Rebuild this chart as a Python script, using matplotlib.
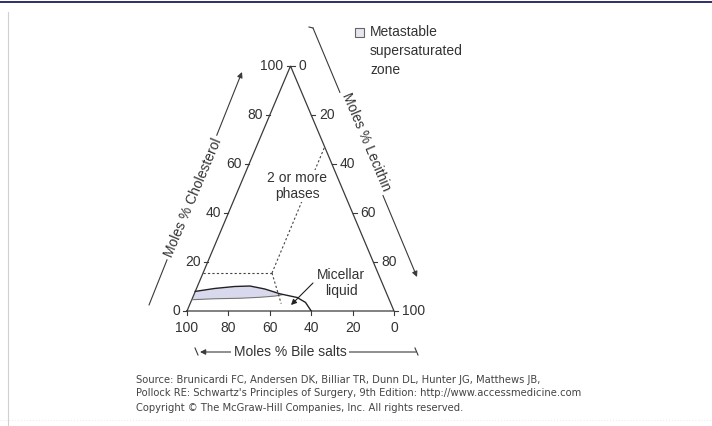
import numpy as np
import matplotlib
matplotlib.use("Agg")
import matplotlib.pyplot as plt
from matplotlib.patches import Rectangle, Polygon
from matplotlib.lines import Line2D

plt.rcParams['font.family'] = ['Liberation Sans', 'DejaVu Sans']

# ---------------- data (ternary percentages) ----------------
tick_values = [0, 20, 40, 60, 80, 100]

# micellar-liquid boundary (solid line): lecithin %, cholesterol %  (bile salts = rest)
micellar_lecithin = [0, 8.8, 18, 25.3, 33, 41.5, 50.5, 55.5, 60]
micellar_cholesterol = [8, 9.2, 10, 10.2, 9, 7, 5.5, 3.5, 0]

# lower edge of metastable supersaturated zone
meta_lecithin = [0, 11, 23, 32.5, 39.5, 42.5]
meta_cholesterol = [4.6, 5.0, 5.2, 5.6, 6.1, 6.6]

# dashed phase-boundary lines (lecithin %, cholesterol %)
phase_h_lecithin = [0, 33.3]
phase_h_cholesterol = [15.5, 15.5]
phase_up_lecithin = [33.3, 33]
phase_up_cholesterol = [15.5, 67]
phase_down_lecithin = [33.3, 44]
phase_down_cholesterol = [15.5, 3]

source_lines = [
    "Source: Brunicardi FC, Andersen DK, Billiar TR, Dunn DL, Hunter JG, Matthews JB,",
    "Pollock RE: Schwartz's Principles of Surgery, 9th Edition: http://www.accessmedicine.com",
    "Copyright \u00a9 The McGraw-Hill Companies, Inc. All rights reserved.",
]

# ---------------- figure ----------------
W, H = 712, 426
fig = plt.figure(figsize=(W / 100, H / 100), dpi=100)
fig.patch.set_facecolor('white')

X0, X1, YB, YT = 187, 394, 311, 66
ax = fig.add_axes([X0 / W, (H - YB) / H, (X1 - X0) / W, (YB - YT) / H])
ax.set_xlim(0, 100)
ax.set_ylim(0, 100)
ax.axis('off')

sx = 100 / (X1 - X0)   # data units per pixel (x)
sy = 100 / (YB - YT)   # data units per pixel (y)


def P(px, py):
    return ((px - X0) * sx, (YB - py) * sy)


def tern(L, C):
    L = np.asarray(L, float)
    C = np.asarray(C, float)
    return L + C / 2.0, C


LC = '#3a3a3a'
TC = '#333333'
FS = 10

# triangle
tx, ty = tern([0, 100, 0, 0], [0, 0, 100, 0])
ax.plot(tx, ty, color=LC, lw=0.9, clip_on=False, solid_joinstyle='miter')

# ticks and labels
for v in tick_values:
    # cholesterol (left edge)
    x, y = tern(0, v)
    ax.plot([x, x - 4 * sx], [y, y], color=LC, lw=0.8, clip_on=False)
    ax.text(x - 7 * sx, y, str(v), ha='right', va='center', fontsize=FS, color=TC)
    # lecithin (right edge)
    x, y = tern(v, 100 - v)
    ax.plot([x, x + 4 * sx], [y, y], color=LC, lw=0.8, clip_on=False)
    ax.text(x + 8 * sx, y, str(v), ha='left', va='center', fontsize=FS, color=TC)
    # bile salts (bottom edge): B = v -> L = 100 - v
    x, y = tern(100 - v, 0)
    ax.plot([x, x], [y, y - 4 * sy], color=LC, lw=0.8, clip_on=False)
    ax.text(x, y - 10 * sy, str(v), ha='center', va='top', fontsize=FS, color=TC)

# metastable zone fill
ux, uy = tern(micellar_lecithin[:6], micellar_cholesterol[:6])
lx, ly = tern(meta_lecithin, meta_cholesterol)
poly_x = np.concatenate([ux, lx[::-1]])
poly_y = np.concatenate([uy, ly[::-1]])
ax.add_patch(Polygon(np.column_stack([poly_x, poly_y]), closed=True,
                     facecolor='#d9d9ee', edgecolor='none', zorder=1))
ax.plot(lx, ly, color='#777777', lw=0.8, zorder=2)

# micellar boundary
mx, my = tern(micellar_lecithin, micellar_cholesterol)
ax.plot(mx, my, color='#222222', lw=1.0, zorder=3)

# dashed phase lines
for Ls, Cs in [(phase_h_lecithin, phase_h_cholesterol),
               (phase_up_lecithin, phase_up_cholesterol),
               (phase_down_lecithin, phase_down_cholesterol)]:
    px_, py_ = tern(Ls, Cs)
    ax.plot(px_, py_, color='#444444', lw=0.8, ls=(0, (2, 2)), zorder=2)

# annotations
ax.text(*P(297, 186), "2 or more\nphases", ha='center', va='center', fontsize=FS,
        color=TC, linespacing=1.15, zorder=5,
        bbox=dict(facecolor='white', edgecolor='none', pad=1))
ax.text(*P(341, 283), "Micellar\nliquid", ha='center', va='center', fontsize=FS,
        color=TC, linespacing=1.15, zorder=5)
ax.annotate('', xy=P(291, 305), xytext=P(313, 283),
            arrowprops=dict(arrowstyle='-|>', color='#222222', lw=0.8,
                            mutation_scale=8, shrinkA=0, shrinkB=0),
            annotation_clip=False)

# axis titles with arrows
ang = np.degrees(np.arctan2(YB - YT, (X1 - X0) / 2))
arrow_kw = dict(arrowstyle='-|>', color=LC, lw=0.8, mutation_scale=8,
                shrinkA=0, shrinkB=0)
# left
ax.annotate('', xy=P(242, 72), xytext=P(149, 305), arrowprops=arrow_kw,
            annotation_clip=False)
ax.text(*P(193, 198), "Moles % Cholesterol", rotation=ang, ha='center', va='center',
        rotation_mode='anchor', fontsize=FS, color=TC,
        bbox=dict(facecolor='white', edgecolor='none', pad=2))
# right
ax.annotate('', xy=P(417, 277), xytext=P(313, 28), arrowprops=arrow_kw,
            annotation_clip=False)
ax.plot(*zip(P(309, 27), P(313, 28)), color=LC, lw=0.8, clip_on=False)
ax.text(*P(366, 142), "Moles % Lecithin", rotation=-ang, ha='center', va='center',
        rotation_mode='anchor', fontsize=FS, color=TC,
        bbox=dict(facecolor='white', edgecolor='none', pad=2))
# bottom
ax.annotate('', xy=P(200, 352), xytext=P(416, 352), arrowprops=arrow_kw,
            annotation_clip=False)
ax.plot(*zip(P(195, 348), P(198, 355)), color=LC, lw=0.8, clip_on=False)
ax.plot(*zip(P(415, 348), P(418, 355)), color=LC, lw=0.8, clip_on=False)
ax.text(*P(290, 352), "Moles % Bile salts", ha='center', va='center', fontsize=FS,
        color=TC, bbox=dict(facecolor='white', edgecolor='none', pad=2))

# legend
lx0, ly0 = P(355, 37)
ax.add_patch(Rectangle((lx0, ly0), 9 * sx, 9 * sy, facecolor='#e6e6ef',
                       edgecolor='#666666', lw=0.8, clip_on=False))
ax.text(*P(370, 25), "Metastable\nsupersaturated\nzone", ha='left', va='top',
        fontsize=FS, color=TC, linespacing=1.45)

# source text
for i, (s, py) in enumerate(zip(source_lines, [380, 393, 408])):
    fig.text(136 / W, 1 - py / H, s, ha='left', va='center', fontsize=7.2,
             family='DejaVu Sans', color='#444444')

# page frame decorations
fig.add_artist(Line2D([0, 1], [1 - 1.5 / H, 1 - 1.5 / H], color='#0b0b55', lw=1.2,
                      transform=fig.transFigure))
fig.add_artist(Line2D([8 / W, 8 / W], [0, 1 - 12 / H], color='#d0d0d0', lw=0.8,
                      transform=fig.transFigure))
fig.add_artist(Line2D([0, 1], [1 - 420 / H, 1 - 420 / H], color='#eeeeee', lw=0.8,
                      ls=':', transform=fig.transFigure))

fig.savefig('out.png', dpi=100, facecolor='white')
